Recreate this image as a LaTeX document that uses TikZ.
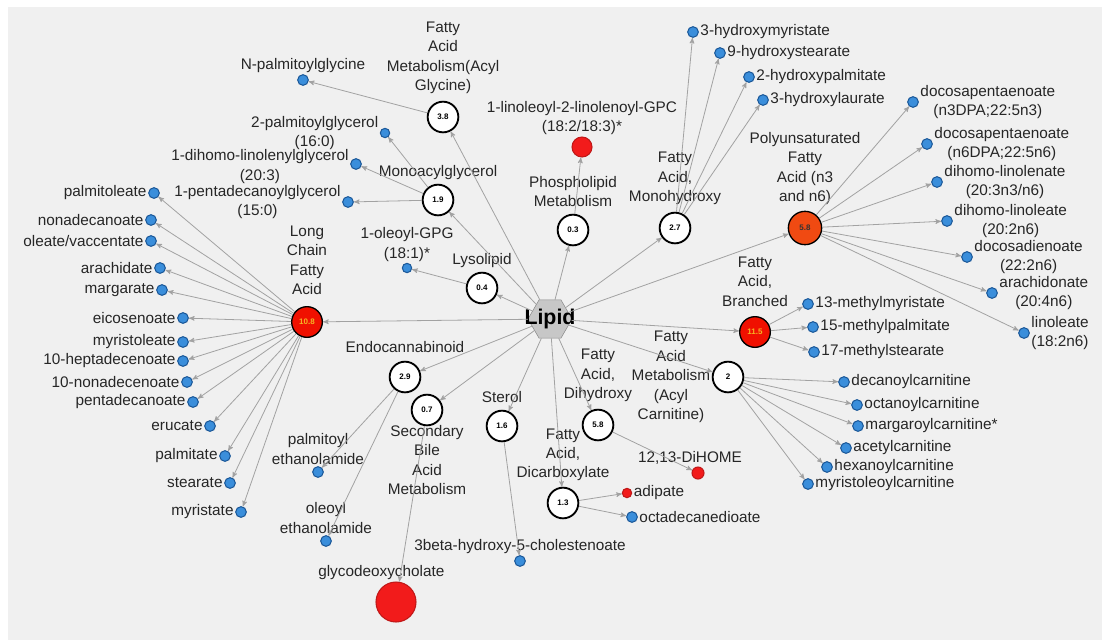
\documentclass[tikz,border=0pt]{standalone}
\usepackage{fontspec}
\setmainfont{Liberation Sans}
\usetikzlibrary{arrows,shapes.geometric}
\definecolor{bg}{HTML}{F0F0F0}
\definecolor{edgegray}{HTML}{A2A2A2}
\definecolor{leafblue}{HTML}{3A8EDB}
\definecolor{leafrim}{HTML}{1D5A9A}
\definecolor{hotred}{HTML}{F21B1B}
\definecolor{hotrim}{HTML}{C01818}
\definecolor{hubred}{HTML}{F01000}
\definecolor{hubor}{HTML}{F04A12}
\definecolor{numgold}{HTML}{F5B324}
\tikzstyle{hub}=[circle, draw, line width=1.4pt, fill=white, inner sep=0pt, minimum size=23pt]
\tikzstyle{hothub}=[hub, fill=hubred, line width=1pt, text=numgold]
\tikzstyle{leaf}=[circle, draw=leafrim, fill=leafblue, line width=0.8pt, inner sep=0pt, minimum size=8pt]
\tikzstyle{redleaf}=[leaf, draw=hotrim, fill=hotred]
\tikzstyle{core}=[regular polygon, regular polygon sides=6, draw=black!45, fill=black!22, inner sep=0pt, minimum size=33pt]
\tikzstyle{lift}=[yshift=4pt]
\newcommand{\val}[1]{{\fontsize{6}{7}\selectfont\bfseries #1}}
\newcommand{\txt}{\fontsize{11.5}{14.6}\selectfont}
\newcommand{\hub}{\node[hub]}
\newcommand{\leaf}{\node[leaf]}

\begin{document}
\begin{tikzpicture}[x=0.75pt, y=-0.75pt
  ,every edge/.style={draw=edgegray, line width=0.6pt, -stealth'}
  ,every label/.style={font=\txt, align=center, inner sep=1pt, text=black!85}
]
\useasboundingbox (0,0) rectangle (1102,640);
\fill[white] (0,0) rectangle (1102,640);
\fill[bg] (8,7) rectangle (1102,640);

\node[core] (lip) at (550,319) {\makebox[0pt]{\fontsize{16}{16}\selectfont\bfseries Lipid}};

\hub (lcfa) at (307,322) [hothub, label={[lift, yshift=3pt]above:{Long\\Chain\\Fatty\\Acid}}] {\val{10.8}};
\hub (gly) at (443,117) [label={[lift]above:{Fatty\\Acid\\Metabolism(Acyl\\Glycine)}}] {\val{3.8}};
\hub (mag) at (438,200) [label={[yshift=2pt]above:Monoacylglycerol}] {\val{1.9}};
\hub (lyso) at (482,288) [label={[yshift=2pt]above:Lysolipid}] {\val{0.4}};
\hub (phos) at (573,230) [label={[lift]above:{Phospholipid\\Metabolism}}] {\val{0.3}};
\hub (mono) at (675,228) [label={[lift]above:{Fatty\\Acid,\\Monohydroxy}}] {\val{2.7}};
\hub (pufa) at (805,228) [hothub, fill=hubor, text=black!80, minimum size=25pt, label={[yshift=3pt]above:{Polyunsaturated\\Fatty\\Acid (n3\\and n6)}}] {\val{5.8}};
\hub (bran) at (755,332) [hothub, label={[lift, yshift=2pt]above:{Fatty\\Acid,\\Branched}}] {\val{11.5}};
\hub (carn) at (728,377) [label={left:{Fatty\\Acid\\Metabolism\\(Acyl\\Carnitine)}}] {\val{2}};
\hub (dihy) at (598,425) [label={[lift]above:{Fatty\\Acid,\\Dihydroxy}}] {\val{5.8}};
\hub (dica) at (563,503) [label={[yshift=3pt]above:{Fatty\\Acid,\\Dicarboxylate}}] {\val{1.3}};
\hub (ster) at (502,426) [label={[lift]above:Sterol}] {\val{1.6}};
\hub (bile) at (427,410) [label={[yshift=2pt]below:{Secondary\\Bile\\Acid\\Metabolism}}] {\val{0.7}};
\hub (endo) at (405,377) [label={[lift, yshift=1pt]above:Endocannabinoid}] {\val{2.9}};

\leaf (c1) at (154,193) [label=left:palmitoleate] {};
\leaf (c2) at (151,220) [label=left:nonadecanoate] {};
\leaf (c3) at (151,241) [label=left:oleate/vaccentate] {};
\leaf (c4) at (160,268) [label=left:arachidate] {};
\leaf (c5) at (162,290) [label=left:margarate] {};
\leaf (c6) at (183,318) [label=left:eicosenoate] {};
\leaf (c7) at (183,342) [label=left:myristoleate] {};
\leaf (c8) at (183,361) [label=left:10-heptadecenoate] {};
\leaf (c9) at (187,382) [label=left:10-nonadecenoate] {};
\leaf (c10) at (193,402) [label=left:pentadecanoate] {};
\leaf (c11) at (210,426) [label=left:erucate] {};
\leaf (c12) at (225,456) [label=left:palmitate] {};
\leaf (c13) at (230,483) [label=left:stearate] {};
\leaf (c14) at (241,512) [label=left:myristate] {};

\leaf (g1) at (303,80) [label=above:N-palmitoylglycine] {};

\leaf (m1) at (385,133) [minimum size=7pt, label={left:{2-palmitoylglycerol\\(16:0)}}] {};
\leaf (m2) at (356,164) [label={[yshift=-2pt]left:{1-dihomo-linolenylglycerol\\(20:3)}}] {};
\leaf (m3) at (348,202) [label={left:{1-pentadecanoylglycerol\\(15:0)}}] {};

\leaf (y1) at (407,268) [minimum size=7pt, label={above:{1-oleoyl-GPG\\(18:1)*}}] {};

\node[redleaf] (p1) at (582,147) [minimum size=15pt, label={above:{1-linoleoyl-2-linolenoyl-GPC\\(18:2/18:3)*}}] {};

\leaf (h1) at (693,32) [label=right:3-hydroxymyristate] {};
\leaf (h2) at (720,53) [label=right:9-hydroxystearate] {};
\leaf (h3) at (749,77) [label=right:2-hydroxypalmitate] {};
\leaf (h4) at (763,100) [label=right:3-hydroxylaurate] {};

\leaf (u1) at (913,102) [label={right:{docosapentaenoate\\(n3DPA;22:5n3)}}] {};
\leaf (u2) at (927,144) [label={right:{docosapentaenoate\\(n6DPA;22:5n6)}}] {};
\leaf (u3) at (937,182) [label={right:{dihomo-linolenate\\(20:3n3/n6)}}] {};
\leaf (u4) at (947,221) [label={right:{dihomo-linoleate\\(20:2n6)}}] {};
\leaf (u5) at (967,257) [label={right:{docosadienoate\\(22:2n6)}}] {};
\leaf (u6) at (992,293) [label={right:{arachidonate\\(20:4n6)}}] {};
\leaf (u7) at (1024,333) [label={right:{linoleate\\(18:2n6)}}] {};

\leaf (b1) at (808,304) [label=right:13-methylmyristate] {};
\leaf (b2) at (813,327) [label=right:15-methylpalmitate] {};
\leaf (b3) at (814,352) [label=right:17-methylstearate] {};

\leaf (a1) at (844,382) [label=right:decanoylcarnitine] {};
\leaf (a2) at (857,405) [label=right:octanoylcarnitine] {};
\leaf (a3) at (858,426) [label=right:margaroylcarnitine*] {};
\leaf (a4) at (846,448) [label=right:acetylcarnitine] {};
\leaf (a5) at (827,467) [label=right:hexanoylcarnitine] {};
\leaf (a6) at (808,484) [label=right:myristoleoylcarnitine] {};

\node[redleaf] (d1) at (698,473) [minimum size=9pt, label={[xshift=-6pt]above:{12,13-DiHOME}}] {};

\node[redleaf] (x1) at (627,493) [minimum size=7pt, label=right:adipate] {};
\leaf (x2) at (632,517) [label=right:octadecanedioate] {};

\leaf (s1) at (520,561) [label=above:3beta-hydroxy-5-cholestenoate] {};

\node[redleaf] (k1) at (396,602) [minimum size=30pt, label={[xshift=-11pt]above:glycodeoxycholate}] {};

\leaf (n1) at (318,472) [label={above:{palmitoyl\\ethanolamide}}] {};
\leaf (n2) at (326,541) [label={above:{oleoyl\\ethanolamide}}] {};

\path
(lip) edge (lcfa) edge (gly) edge (mag) edge (lyso) edge (phos) edge (mono) edge (pufa)
      edge (bran) edge (carn) edge (dihy) edge (dica) edge (ster) edge (bile) edge (endo)
(lcfa) edge (c1) edge (c2) edge (c3) edge (c4) edge (c5) edge (c6) edge (c7)
       edge (c8) edge (c9) edge (c10) edge (c11) edge (c12) edge (c13) edge (c14)
(gly) edge (g1)
(mag) edge (m1) edge (m2) edge (m3)
(lyso) edge (y1)
(phos) edge (p1)
(mono) edge (h1) edge (h2) edge (h3) edge (h4)
(pufa) edge (u1) edge (u2) edge (u3) edge (u4) edge (u5) edge (u6) edge (u7)
(bran) edge (b1) edge (b2) edge (b3)
(carn) edge (a1) edge (a2) edge (a3) edge (a4) edge (a5) edge (a6)
(dihy) edge (d1)
(dica) edge (x1) edge (x2)
(ster) edge (s1)
(bile) edge (k1)
(endo) edge (n1) edge (n2)
;
\end{tikzpicture}
\end{document}
